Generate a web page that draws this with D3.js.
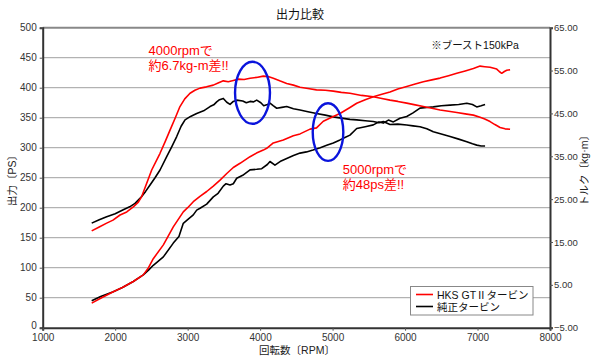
<!DOCTYPE html>
<html><head><meta charset="utf-8">
<script src="https://cdn.jsdelivr.net/npm/d3@7"></script>
<style>body{margin:0;background:#fff}svg{display:block}text{font-family:"Liberation Sans","Noto Sans CJK JP",sans-serif}</style>
</head><body><svg id="c" width="600" height="360"></svg>
<script>
const title = "出力比較";
const xTicks = [1000,2000,3000,4000,5000,6000,7000,8000];
const psTicks = [0,50,100,150,200,250,300,350,400,450,500];
const tqTicks = [-5,5,15,25,35,45,55,65];
const seriesNames = ["HKS GTⅡタービン","純正タービン"];
const seriesColors = ["#ff0000","#000000"];

// HKS power [rpm, PS]
const hksPower = [[1676,41],[1800,49],[1974,60],[2100,67],[2250,77],[2388,88],[2460,100],[2526,115],[2665,138],[2802,168],[2940,193],[3000,200],[3078,210],[3170,219],[3263,227],[3354,236],[3447,246],[3540,257],[3630,267],[3723,274],[3861,285],[3950,291],[4044,296],[4091,299],[4182,308],[4320,313],[4458,320],[4551,323],[4689,331],[4778,333],[4872,344],[5010,352],[5102,357],[5240,367],[5333,374],[5450,380],[5562,385],[5680,389],[5792,393],[5900,398],[6023,402],[6140,406],[6252,410],[6370,413],[6483,416],[6600,420],[6714,424],[6830,428],[6943,432],[7035,436],[7100,435],[7173,434],[7265,431],[7300,427],[7334,424],[7370,427],[7403,429],[7449,430]];
// Stock power [rpm, PS]
const stdPower = [[1676,45],[1800,52],[1974,60],[2100,67],[2250,77],[2388,88],[2460,96],[2526,104],[2665,118],[2802,141],[2880,152],[2940,174],[3000,180],[3078,188],[3125,196],[3171,199],[3263,206],[3354,218],[3420,224],[3492,236],[3530,240],[3585,238],[3630,240],[3677,249],[3760,254],[3861,263],[3953,264],[4022,265],[4100,272],[4136,277],[4205,271],[4290,278],[4367,282],[4460,287],[4551,291],[4640,293],[4730,296],[4830,300],[4919,304],[5010,308],[5102,313],[5170,317],[5240,321],[5333,332],[5450,335],[5562,338],[5640,343],[5700,341],[5770,346],[5838,343],[5930,349],[6023,352],[6110,358],[6206,366],[6300,367],[6390,368],[6500,370],[6621,371],[6740,372],[6852,374],[6930,372],[6989,368],[7050,370],[7104,372]];
// HKS torque [rpm, kg-m]
const hksTorque = [[1676,17.6],[1780,18.5],[1883,19.4],[1970,20.1],[2067,21.3],[2160,22.0],[2250,23.2],[2320,24.3],[2366,25.6],[2435,28.7],[2504,31.8],[2619,35.7],[2690,38.4],[2757,41.1],[2830,44.0],[2894,46.6],[2960,48.4],[3033,49.7],[3100,50.4],[3171,50.9],[3260,51.2],[3354,51.6],[3420,52.1],[3492,52.6],[3560,52.4],[3630,52.7],[3700,53.0],[3780,52.9],[3861,53.2],[3950,53.4],[4044,53.7],[4110,53.6],[4182,53.2],[4270,52.6],[4367,52.0],[4460,51.6],[4551,51.1],[4660,50.8],[4778,50.5],[4900,50.4],[5010,50.2],[5120,49.9],[5240,49.7],[5400,49.2],[5562,48.9],[5680,48.5],[5792,48.1],[5900,47.8],[6023,47.4],[6140,47.0],[6252,46.6],[6370,46.2],[6483,45.8],[6600,45.5],[6714,45.2],[6830,44.9],[6943,44.6],[7035,44.1],[7100,43.7],[7173,43.1],[7240,42.4],[7311,41.7],[7380,41.4],[7449,41.3]];
// Stock torque [rpm, kg-m]
const stdTorque = [[1676,19.4],[1780,20.2],[1883,20.9],[2000,21.6],[2112,22.5],[2200,23.2],[2274,24.0],[2366,25.6],[2420,26.8],[2481,28.3],[2550,30.0],[2619,31.8],[2711,34.9],[2780,37.2],[2849,39.6],[2910,42.0],[2964,43.5],[3040,44.3],[3125,45.0],[3220,45.6],[3309,46.6],[3360,47.0],[3401,47.7],[3440,48.2],[3492,48.5],[3540,47.6],[3585,47.1],[3630,47.8],[3677,48.1],[3760,47.9],[3810,47.5],[3861,47.8],[3910,47.7],[3953,48.1],[4010,47.5],[4050,46.8],[4091,47.0],[4136,47.4],[4180,46.8],[4229,46.2],[4300,46.4],[4367,46.6],[4460,46.1],[4551,45.8],[4660,45.4],[4778,45.0],[4900,44.6],[5010,44.2],[5120,43.9],[5240,43.6],[5333,43.5],[5450,43.3],[5562,43.1],[5640,42.8],[5700,43.1],[5792,42.4],[5900,42.5],[6023,42.3],[6110,42.1],[6206,41.9],[6300,41.4],[6390,40.7],[6500,40.2],[6621,39.6],[6740,39.0],[6852,38.4],[6930,37.9],[6989,37.6],[7050,37.4],[7104,37.4]];

// annotation ellipses: [rpm, PS, rpm radius, PS radius]
const highlights = [[3895,391.5,241,51.7],[4937,326,211,48]];
const notes = [
  {rpm:2460, ps:454, lines:["4000rpmで","約6.7kg-m差!!"], color:"#ff0000"},
  {rpm:5140, ps:256, lines:["5000rpmで","約48ps差!!"], color:"#ff0000"}
];
const boostNote = {rpm:6360, ps:465, text:"※ブースト150kPa"};

const svg = d3.select("#c");
const m = {l:42.7, r:550, t:27.7, b:327.7};
const x = d3.scaleLinear().domain([1000,8000]).range([m.l,m.r]);
const yP = d3.scaleLinear().domain([0,500]).range([m.b,m.t]);
const yT = d3.scaleLinear().domain([-5,65]).range([m.b,m.t]);

// gridlines
svg.append("g").selectAll("line").data(psTicks.filter(d=>d>0&&d<500)).join("line")
  .attr("x1",m.l).attr("x2",m.r).attr("y1",d=>yP(d)).attr("y2",d=>yP(d))
  .attr("stroke","#a0a0a0").attr("stroke-width",1);

// frame top
svg.append("line").attr("x1",m.l).attr("x2",m.r).attr("y1",m.t).attr("y2",m.t).attr("stroke","#888").attr("stroke-width",2);

// axes
const tickFont = g => g.selectAll("text").attr("font-size",10).attr("fill","#333").style("font-family","'Liberation Sans','Noto Sans CJK JP',sans-serif");
const axL = svg.append("g").attr("transform",`translate(${m.l},0)`)
  .call(d3.axisLeft(yP).tickValues(psTicks).tickSize(3).tickPadding(3).tickFormat(d3.format("d")));
const axB = svg.append("g").attr("transform",`translate(0,${m.b})`)
  .call(d3.axisBottom(x).tickValues(xTicks).tickSize(3).tickPadding(3).tickFormat(d3.format("d")));
const axR = svg.append("g").attr("transform",`translate(${m.r},0)`)
  .call(d3.axisRight(yT).tickValues(tqTicks).tickSize(3).tickPadding(1).tickFormat(d3.format(".2f")));
[axL,axB,axR].forEach(a=>{a.call(tickFont);a.select(".domain").attr("stroke","#333").attr("stroke-width",2);a.selectAll(".tick line").attr("stroke","#555");});
axR.selectAll("text").attr("font-size",9.5);
axL.selectAll(".tick").filter(d=>d===0).select("text").attr("dy","0.05em");

// curves
const lineP = d3.line().x(d=>x(d[0])).y(d=>yP(d[1])).curve(d3.curveLinear);
const lineT = d3.line().x(d=>x(d[0])).y(d=>yT(d[1])).curve(d3.curveLinear);
const curves = [
  {data:stdPower, gen:lineP, c:seriesColors[1]},
  {data:stdTorque, gen:lineT, c:seriesColors[1]},
  {data:hksPower, gen:lineP, c:seriesColors[0]},
  {data:hksTorque, gen:lineT, c:seriesColors[0]}
];
svg.append("g").selectAll("path").data(curves).join("path")
  .attr("d",d=>d.gen(d.data)).attr("fill","none").attr("stroke",d=>d.c).attr("stroke-width",1.6).attr("stroke-linejoin","round");

// ellipses
svg.append("g").selectAll("ellipse").data(highlights).join("ellipse")
  .attr("cx",d=>x(d[0])).attr("cy",d=>yP(d[1]))
  .attr("rx",d=>x(d[0]+d[2])-x(d[0])).attr("ry",d=>yP(d[1])-yP(d[1]+d[3]))
  .attr("fill","none").attr("stroke","#0a14dc").attr("stroke-width",2.4);

// notes (each line its own text element)
notes.forEach(n=>{
  n.lines.forEach((s,i)=>svg.append("text").attr("x",x(n.rpm)).attr("y",yP(n.ps)+i*15)
    .attr("fill",n.color).attr("font-size",13).text(s));
});
svg.append("text").attr("x",x(boostNote.rpm)).attr("y",yP(boostNote.ps)).attr("font-size",10.5).attr("fill","#111").text(boostNote.text);

// title & axis titles
svg.append("text").attr("x",300).attr("y",19).attr("text-anchor","middle").attr("font-size",12).attr("fill","#111").text(title);
svg.append("text").attr("x",297).attr("y",354).attr("text-anchor","middle").attr("font-size",10.5).attr("fill","#222").text("回転数〔RPM〕");
svg.append("text").attr("transform","translate(16,178) rotate(-90)").attr("text-anchor","middle").attr("font-size",10.5).attr("fill","#222").text("出力〔PS〕");
svg.append("text").attr("transform","translate(588,168) rotate(-90)").attr("text-anchor","middle").attr("font-size",10.5).attr("fill","#222").text("トルク〔kg·m〕");

// legend
const lg = svg.append("g");
lg.append("rect").attr("x",410.5).attr("y",286.5).attr("width",122.5).attr("height",28.5).attr("fill","#fff").attr("stroke","#888");
seriesNames.forEach((s,i)=>{
  lg.append("line").attr("x1",416).attr("x2",433).attr("y1",294.5+i*12).attr("y2",294.5+i*12).attr("stroke",seriesColors[i]).attr("stroke-width",1.6);
  lg.append("text").attr("x",437).attr("y",298.5+i*12).attr("font-size",10.5).attr("fill","#111").text(s);
});
</script></body></html>
